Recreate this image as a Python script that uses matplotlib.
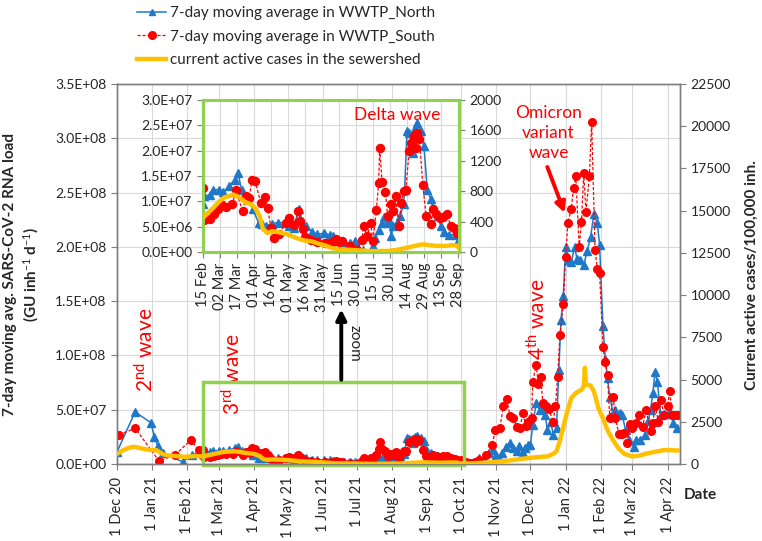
import numpy as np
import pandas as pd
import matplotlib
matplotlib.use("Agg")
import matplotlib.pyplot as plt
import matplotlib.dates as mdates
from matplotlib.patches import Rectangle
from matplotlib.lines import Line2D
from matplotlib.ticker import FuncFormatter, MultipleLocator

plt.rcParams['font.family'] = ['Lato', 'DejaVu Sans']
plt.rcParams['mathtext.fontset'] = 'custom'
plt.rcParams['mathtext.rm'] = 'Lato'
plt.rcParams['mathtext.it'] = 'Lato:italic'
plt.rcParams['mathtext.bf'] = 'Lato:bold'

# ---------------- data ----------------
START = "2020-12-01"   # sample days are counted from this date

north_day = [0, 16, 30, 33, 36, 41, 58, 66, 73,
             76, 77, 82, 85, 90, 94, 99, 104, 107, 110, 115, 120, 125, 128, 132, 137, 142, 148,
             152, 156, 161, 164, 167, 172, 177, 183,
             188, 191, 194, 200, 206, 210, 212, 217, 225, 226, 228, 231, 234, 236, 238, 241, 242,
             244, 247, 250, 253, 254, 256, 258, 261, 263, 265, 268, 271, 274, 277, 279, 283, 286,
             289, 293, 299, 301,
             304, 308, 312, 316, 320, 324, 328, 332, 335, 337, 340, 343, 347, 350, 353, 355, 358,
             360, 363, 365, 367, 370, 373, 375, 378, 380, 383, 385, 388, 390, 392, 394, 396, 399,
             401, 404, 406, 409, 412, 415, 418, 421, 424, 426, 429, 431, 433, 435, 438, 440, 444,
             446, 449, 452, 456, 458, 462, 466, 469, 471, 473, 475, 477, 480, 483, 486, 488, 491, 494]
north_load_e6 = [11, 48, 38, 25, 17, 10, 2, 8, 11,
                 9.4, 11.0, 11.3, 12.3, 12.3, 11.8, 13.0, 14.3, 15.5, 12.3, 11.0, 8.4, 5.8, 5.6, 5.2,
                 5.6, 5.8, 5.8,
                 5.2, 4.8, 8.4, 5.6, 5.2, 4.0, 3.5, 3.7,
                 3.4, 3.1, 2.1, 1.8, 1.8, 2.1, 1.1, 0.4, 0.1, 1.1, 2.8, 4.4, 5.7, 7.0, 5.8, 5.9, 3.1,
                 5.1, 5.8, 7.1, 9.4, 12.3, 23.8, 23.5, 19.6, 24.5, 25.5, 23.9, 20.9, 12.3, 10.4, 8.7,
                 7.1, 5.1,
                 4.0, 3.4, 3.4, 2.2,
                 1.5, 1.0, 0.5, 1.2, 5.2, 3.0, 9.8, 12.9, 8, 5.2, 10, 16, 19, 14.5, 12, 16.6, 10,
                 15, 17.5, 17.5, 36, 56, 50, 52, 45, 31, 39, 27, 33, 87, 133, 155, 200, 188,
                 186, 200, 189, 188, 183, 196, 209, 230, 222, 202, 127, 97, 79, 62, 47, 50, 47,
                 45, 31, 22, 16, 22, 22, 27, 40, 50, 65, 85, 76, 45, 46, 46, 47, 38, 33]

south_day = [2, 16, 37, 51, 65, 72,
             76, 77, 82, 86, 89, 92, 96, 102, 105, 111, 114, 117, 119, 122, 127, 131, 133, 136, 139,
             143, 149, 152, 156, 160, 162, 164, 166, 171, 177, 184,
             190, 193, 196, 199, 206, 212, 216, 218, 221, 224, 226, 229, 231, 232, 234, 237, 239,
             242, 244, 246, 249, 251, 253, 255, 258, 260, 262, 264, 265, 267, 270, 273, 277, 279,
             282, 285, 288, 291, 295, 298, 300,
             304, 308, 312, 316, 320, 326, 331, 334, 338, 341, 344, 347, 350, 353, 356, 358, 361,
             363, 366, 367, 370, 372, 374, 376, 379, 381, 385, 387, 389, 391, 394, 396, 398, 401,
             403, 405, 408, 410, 412, 414, 417, 419, 422, 424, 426, 429, 431, 433, 435, 438, 440,
             443, 446, 448, 450, 453, 455, 458, 461, 464, 467, 471, 473, 475, 478, 480, 483, 486,
             488, 490, 493, 495]
south_load_e6 = [27, 33, 3, 8, 22, 13,
                 12.7, 6.4, 6.6, 7.4, 8.4, 9.4, 8.8, 9.4, 12.3, 8.0, 11.0, 10.6, 14.3, 14.0, 9.7,
                 10.9, 8.7, 4.7, 2.8,
                 3.5, 5.7, 6.7, 5.3, 8.0, 6.2, 4.5, 3.0, 2.4, 2.0, 1.8,
                 2.0, 2.5, 2.0, 2.2, 1.1, 0.3, 2.4, 5.1, 3.1, 5.8, 2.1, 8.2, 13.6, 20.6, 13.9, 11.9,
                 7.1,
                 9.4, 8.0, 11.0, 5.1, 9.6, 12.1, 12.3, 19.9, 21.6, 22.9, 20.6, 23.5, 22.3, 13.3, 7.1,
                 5.5, 8.5,
                 7.5, 6.8, 7.0, 7.4, 5.1, 4.8, 3.8,
                 3.7, 1.5, 1.0, 2.0, 4.0, 8.3, 17.5, 31, 33, 53, 60, 44, 42, 34, 33, 47, 35,
                 39, 42, 76, 91, 74, 80, 56, 53, 51, 39, 53, 80, 119, 147, 191, 222, 235,
                 254, 265, 200, 223, 268, 232, 265, 315, 197, 180, 176, 108, 94, 82, 42, 62, 42,
                 28, 28, 29, 19, 37, 33, 38, 45, 34, 50, 30, 38, 53, 39, 59, 45, 53,
                 67, 45, 45, 45]

cases_day = [0, 5, 10, 15, 20, 25, 30, 35, 40, 45, 50, 55, 60, 65, 70, 76, 80, 85, 90, 95, 100,
             103, 108, 113, 118, 122, 126, 129, 133, 137, 141, 146, 151, 156, 161, 166, 172, 178,
             185, 190, 195, 205, 215, 225, 232, 240, 248, 254, 260, 266, 270, 276, 282, 290, 296,
             300, 303, 310, 320, 330, 340, 350, 360, 370, 380, 385, 388, 391, 394, 397, 401, 405,
             410, 412, 413, 414, 418, 421, 425, 429, 433, 438, 443, 448, 455, 460, 468, 477, 483,
             489, 495]
active_cases = [600, 800, 950, 1020, 950, 870, 830, 820, 600, 500, 480, 460, 420, 450, 470, 450,
                510, 580, 660, 720, 740, 756, 720, 660, 630, 580, 470, 300, 250, 275, 265, 250,
                230, 200, 170, 150, 140, 110, 80, 50, 40, 30, 20, 12, 12, 15, 30, 50, 70, 90, 100,
                90, 80, 80, 90, 85, 40, 30, 60, 100, 160, 240, 330, 400, 450, 600, 750, 1400, 2200,
                3000, 3900, 4200, 4400, 4600, 5700, 4700, 4650, 4300, 3300, 2700, 2000, 1400, 900,
                600, 450, 480, 630, 750, 830, 820, 800]

assert len(north_day) == len(north_load_e6)
assert len(south_day) == len(south_load_e6)
assert len(cases_day) == len(active_cases)

def to_dates(days):
    return pd.Timestamp(START) + pd.to_timedelta(np.asarray(days, dtype=float), unit="D")

n_dates = to_dates(north_day)
s_dates = to_dates(south_day)
c_dates = to_dates(cases_day)
n_vals = np.array(north_load_e6) * 1e6
s_vals = np.array(south_load_e6) * 1e6
c_vals = np.array(active_cases)

BLUE = "#1f78c8"
RED = "#ff0000"
GOLD = "#ffc000"
GREEN = "#92d050"
GRID = "#d9d9d9"
SPINE = "#7f7f7f"
TXT = "#262626"

sci = FuncFormatter(lambda v, p: f"{v:.1E}")

def draw_series(a, a2, ms_scale=1.0):
    a.plot(n_dates, n_vals, color=BLUE, lw=1.1, marker="^", ms=5.2 * ms_scale, zorder=3)
    a.plot(s_dates, s_vals, color=RED, lw=0.9, ls=(0, (2.5, 1.5)), marker="o",
           ms=5.5 * ms_scale, zorder=4)
    a2.plot(c_dates, c_vals, color=GOLD, lw=3.2, solid_joinstyle="round", zorder=5)

# ---------------- figure ----------------
fig = plt.figure(figsize=(7.62, 5.41), dpi=100)
ax = fig.add_axes([0.1535, 0.1423, 0.7389, 0.7024])
ax2 = ax.twinx()

draw_series(ax, ax2)

ax.set_xlim(pd.Timestamp("2020-12-01"), pd.Timestamp("2022-04-12"))
ax.set_ylim(0, 3.5e8)
ax.yaxis.set_major_locator(MultipleLocator(5e7))
ax.yaxis.set_major_formatter(sci)
ax2.set_ylim(0, 22500)
ax2.yaxis.set_major_locator(MultipleLocator(2500))

ax.xaxis.set_major_locator(mdates.MonthLocator(bymonthday=1))
ax.xaxis.set_major_formatter(FuncFormatter(
    lambda v, p: f"{mdates.num2date(v).day} {mdates.num2date(v).strftime('%b %y')}"))
for lab in ax.get_xticklabels():
    lab.set_rotation(90)

ax.grid(True, color=GRID, lw=0.8)
ax.set_axisbelow(True)
for a in (ax, ax2):
    for s in a.spines.values():
        s.set_color(SPINE)
        s.set_linewidth(1.0)
    a.tick_params(colors=SPINE, labelcolor=TXT, labelsize=10, direction="out", length=4)
ax.tick_params(axis="x", pad=5, labelsize=10.5)

# zoom box + arrow + annotations
box = Rectangle((mdates.date2num(pd.Timestamp("2021-02-15")), -1.2e6),
                mdates.date2num(pd.Timestamp("2021-10-03")) - mdates.date2num(pd.Timestamp("2021-02-15")),
                7.67e7, fill=False, ec=GREEN, lw=2.5, zorder=6, clip_on=False)
ax.add_patch(box)
ax.annotate("", xy=(pd.Timestamp("2021-06-17"), 1.45e8), xytext=(pd.Timestamp("2021-06-17"), 7.5e7),
            arrowprops=dict(arrowstyle="-|>,head_length=0.6,head_width=0.3", lw=2.8, color="black"),
            zorder=7)
ax.text(pd.Timestamp("2021-06-29"), 1.11e8, "zoom", rotation=-90, ha="center", va="center",
        fontsize=11, color=TXT)
ax.text(pd.Timestamp("2020-12-26"), 1.05e8, "2$^{\\mathrm{nd}}$ wave", rotation=90, ha="center",
        va="center", fontsize=15, color=RED)
ax.text(pd.Timestamp("2021-03-13"), 8.3e7, "3$^{\\mathrm{rd}}$ wave", rotation=90, ha="center",
        va="center", fontsize=15, color=RED)
ax.text(pd.Timestamp("2021-12-07"), 1.33e8, "4$^{\\mathrm{th}}$ wave", rotation=90, ha="center",
        va="center", fontsize=15, color=RED)
ax.text(pd.Timestamp("2021-12-17"), 3.05e8, "Omicron\nvariant\nwave", ha="center", va="center",
        fontsize=12.5, color=RED, linespacing=1.3)
ax.annotate("", xy=(pd.Timestamp("2022-01-01"), 2.29e8), xytext=(pd.Timestamp("2021-12-15"), 2.76e8),
            arrowprops=dict(arrowstyle="-|>,head_length=0.6,head_width=0.3", lw=2.8, color=RED))

# ---------------- inset ----------------
axi = fig.add_axes([0.2664, 0.5342, 0.336, 0.281])
axi.set_facecolor("white")
axi2 = axi.twinx()
draw_series(axi, axi2, ms_scale=1.05)
axi.set_xlim(pd.Timestamp("2021-02-15"), pd.Timestamp("2021-09-29"))
axi.set_ylim(0, 3.0e7)
axi.yaxis.set_major_locator(MultipleLocator(5e6))
axi.yaxis.set_major_formatter(sci)
axi2.set_ylim(0, 2000)
axi2.yaxis.set_major_locator(MultipleLocator(400))
inset_ticks = pd.date_range("2021-02-15", "2021-09-28", freq="15D")
axi.set_xticks(inset_ticks)
axi.set_xticklabels([d.strftime("%d %b") for d in inset_ticks], rotation=90)
axi.grid(True, color=GRID, lw=0.8)
axi.set_axisbelow(True)
for a in (axi, axi2):
    for s in a.spines.values():
        s.set_color(GREEN)
        s.set_linewidth(2.2)
    a.tick_params(colors=SPINE, labelcolor=TXT, labelsize=10, direction="out", length=4)
axi.tick_params(axis="x", labelsize=10.5)
axi.text(0.76, 0.90, "Delta wave", transform=axi.transAxes, ha="center", va="center",
         fontsize=12.5, color=RED, zorder=10)

# ---------------- labels & legend ----------------
fig.text(0.029, 0.492, "7-day moving avg. SARS-CoV-2 RNA load\n(GU inh$^{-1}$ d$^{-1}$)",
         rotation=90, ha="center", va="center", fontsize=11, fontweight="bold",
         multialignment="center", color=TXT, linespacing=1.3)
fig.text(0.987, 0.492, "Current active cases/100,000 inh.", rotation=90, ha="center", va="center",
         fontsize=11, fontweight="bold", color=TXT)
fig.text(0.9186, 0.085, "Date", ha="center", va="center", fontsize=11, fontweight="bold", color=TXT)

handles = [Line2D([], [], color=BLUE, lw=1.1, marker="^", ms=5),
           Line2D([], [], color=RED, lw=0.9, ls=(0, (2.5, 1.5)), marker="o", ms=5.5),
           Line2D([], [], color=GOLD, lw=3.2)]
labels = ["7-day moving average in WWTP_North", "7-day moving average in WWTP_South",
          "current active cases in the sewershed"]
fig.legend(handles, labels, loc="upper left", bbox_to_anchor=(0.172, 1.0), frameon=False,
           fontsize=11, handlelength=1.9, handletextpad=0.25, labelspacing=0.62,
           borderaxespad=0.0, labelcolor=TXT)

fig.savefig("out.png", dpi=100)
